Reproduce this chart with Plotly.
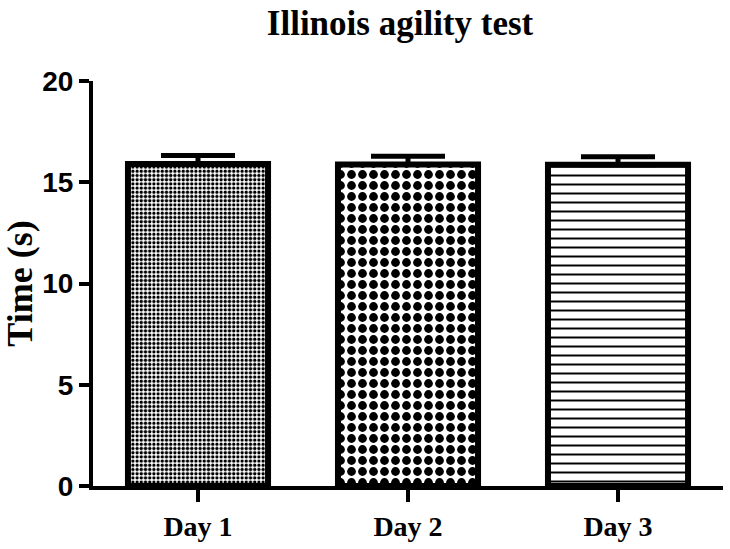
import plotly.graph_objects as go

categories = ["Day 1", "Day 2", "Day 3"]
mean_time = [15.9, 15.88, 15.86]
sem_time = [0.42, 0.4, 0.4]
y_ticks = [0, 5, 10, 15, 20]

pattern_shapes = [".", ".", "-"]
pattern_sizes = [4.2, 11, 9]
pattern_solidity = [0.5, 0.5, 0.22]

fig = go.Figure()
for i, cat in enumerate(categories):
    fig.add_trace(go.Bar(
        x=[cat], y=[mean_time[i]],
        width=0.667,
        marker=dict(
            color="white",
            line=dict(color="black", width=6),
            pattern=dict(shape=pattern_shapes[i], size=pattern_sizes[i],
                         solidity=pattern_solidity[i], fgcolor="black",
                         bgcolor="white", fillmode="replace"),
        ),
        error_y=dict(type="data", symmetric=False, array=[sem_time[i]],
                     arrayminus=[0], color="black", thickness=5, width=37),
        showlegend=False,
    ))

fig.update_layout(
    width=730, height=549,
    margin=dict(l=93, r=7, t=81, b=51),
    plot_bgcolor="white", paper_bgcolor="white",
    title=dict(text="Illinois agility test", xref="container", x=0.548,
               xanchor="center", yref="container", y=0.959, yanchor="middle",
               font=dict(family="Liberation Serif", size=35, color="black",
                         weight="bold")),
)
fig.update_xaxes(
    type="category", range=[-0.5, 2.5],
    showline=True, linecolor="black", linewidth=4,
    ticks="outside", ticklen=12, tickwidth=4, tickcolor="black",
    showgrid=False, zeroline=False,
    tickfont=dict(family="Liberation Serif", size=28, color="black", weight="bold"),
)
fig.update_yaxes(
    range=[0, 20], tickvals=y_ticks, ticktext=[str(v) for v in y_ticks],
    showline=True, linecolor="black", linewidth=4,
    ticks="outside", ticklen=10, tickwidth=4, tickcolor="black",
    showgrid=False, zeroline=False,
    tickfont=dict(family="Liberation Sans", size=28, color="black", weight="bold"),
    title=dict(text="Time (s)", standoff=3,
               font=dict(family="Liberation Serif", size=36, color="black",
                         weight="bold")),
)

fig.write_html("out.html", config={"displayModeBar": False},
               post_script="document.body.style.margin='0';")
